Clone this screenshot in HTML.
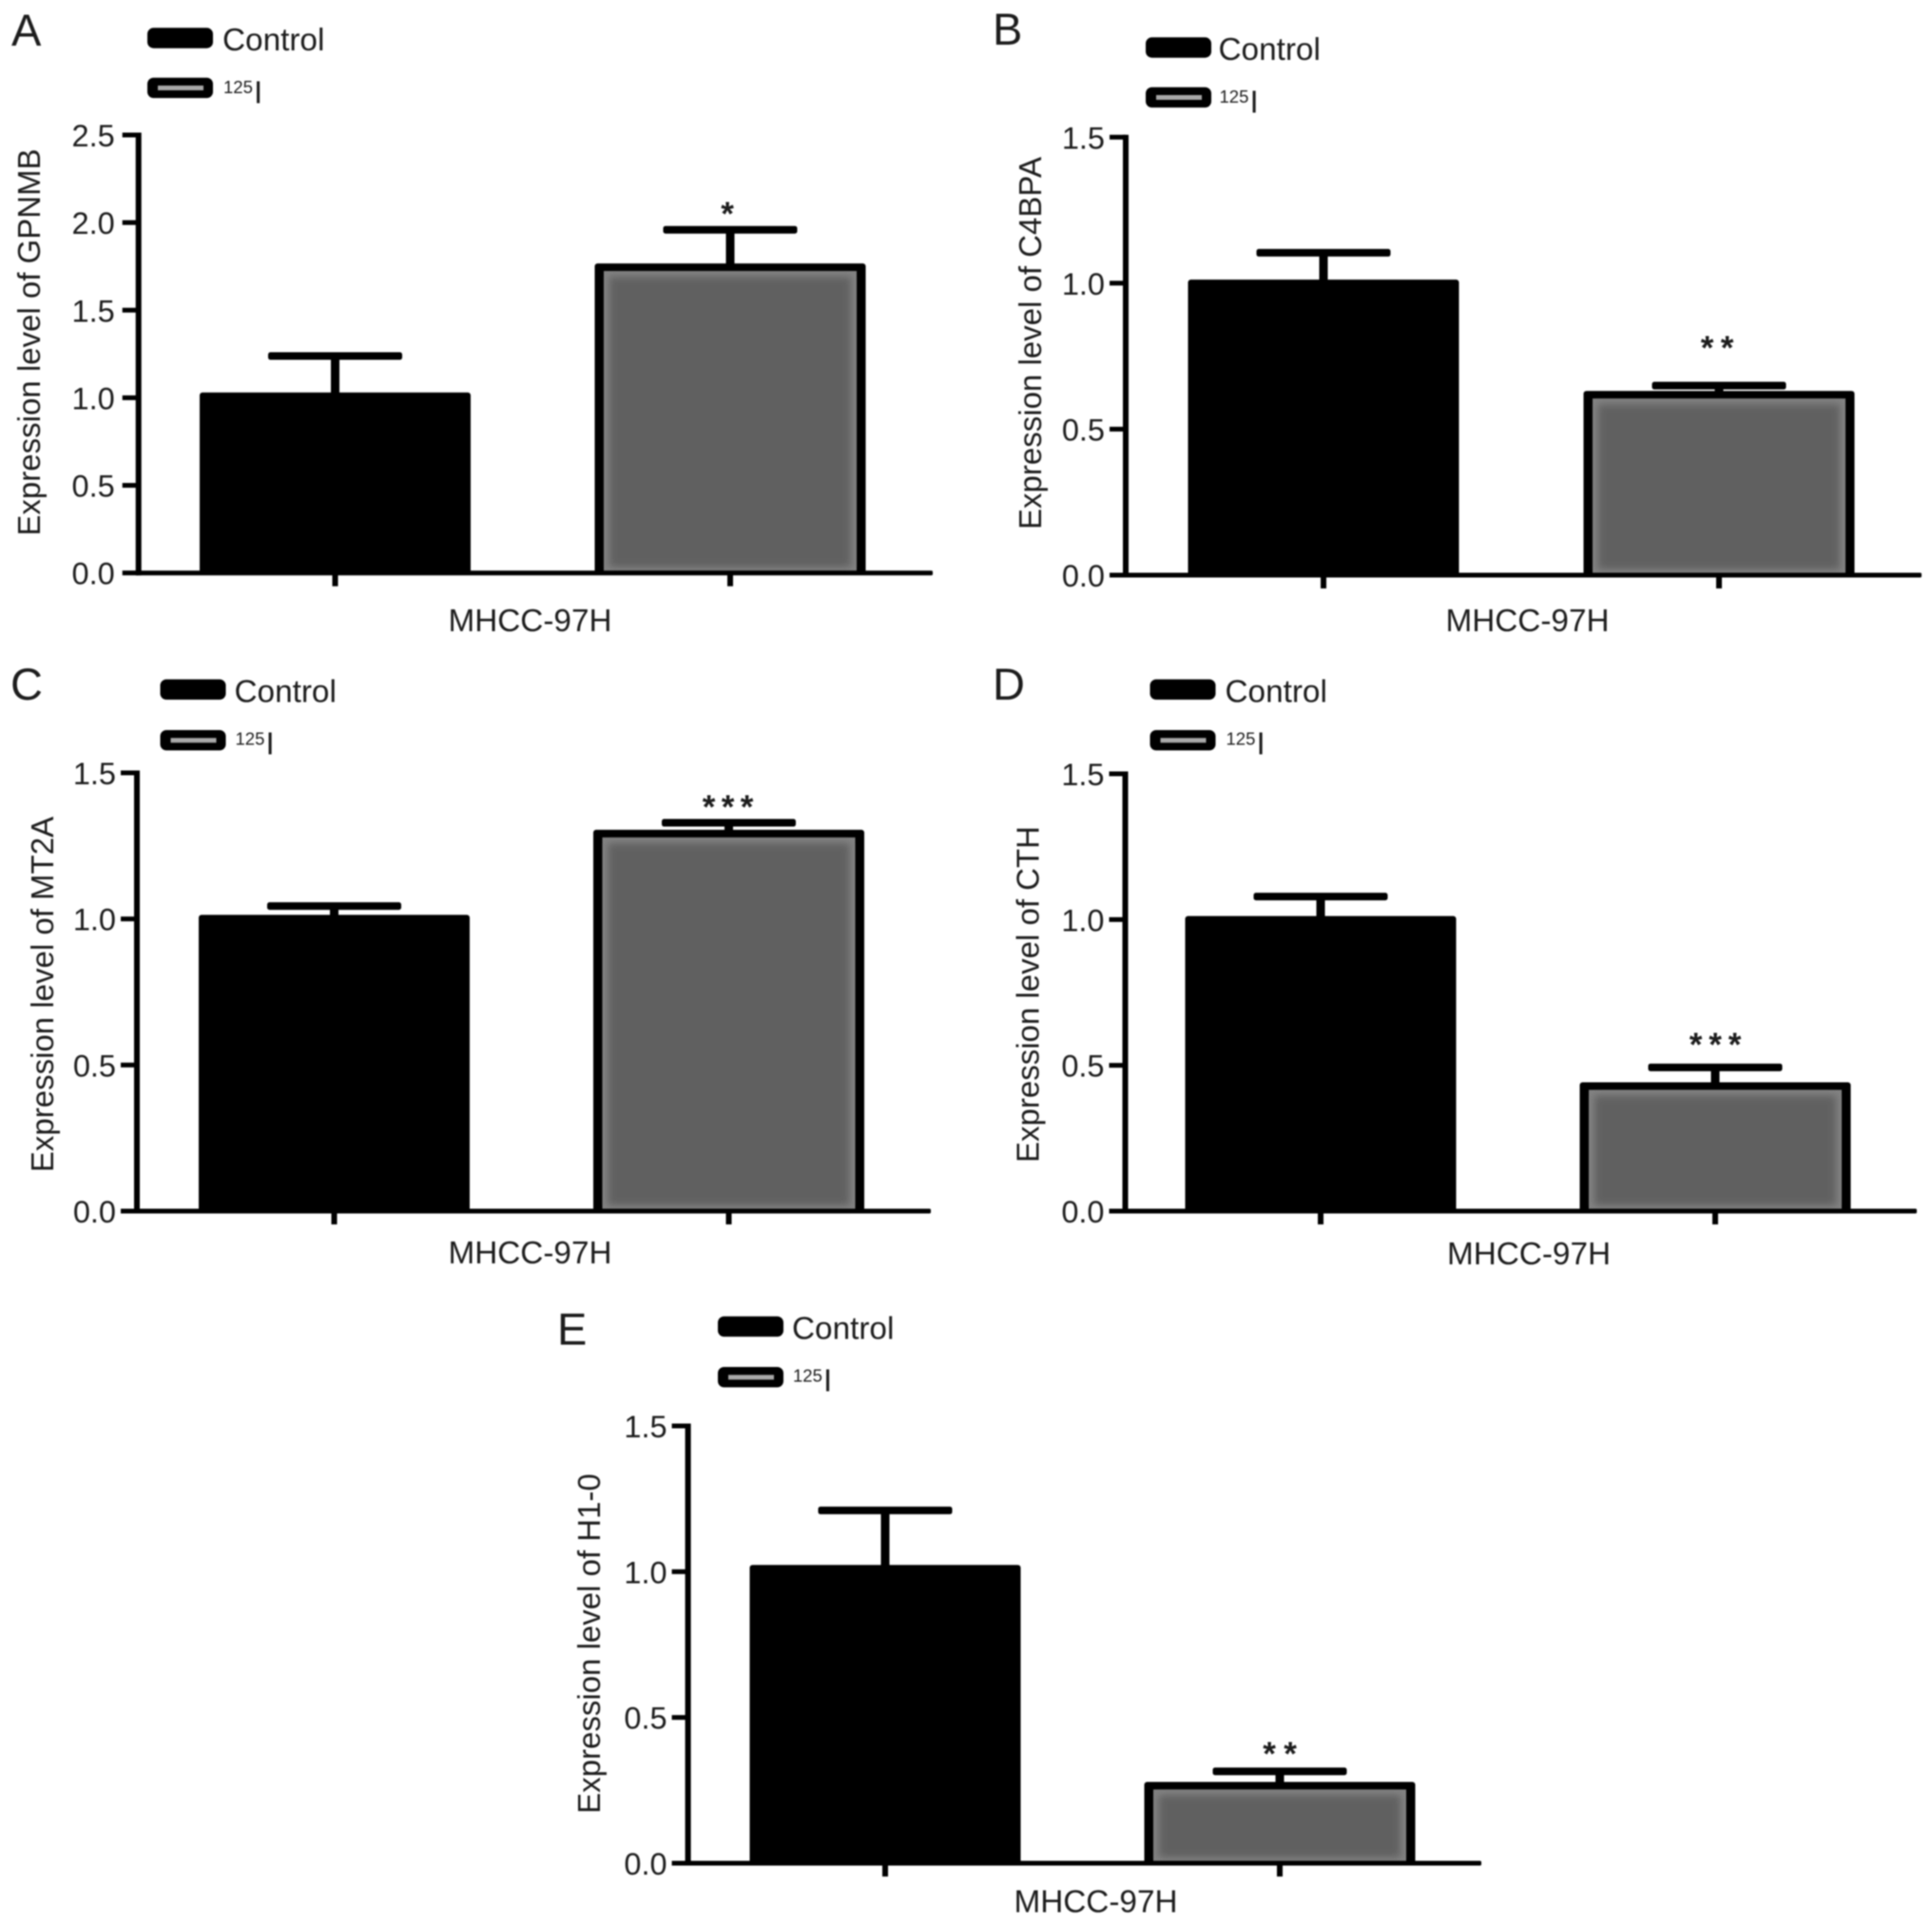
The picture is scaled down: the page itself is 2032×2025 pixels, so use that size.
<!DOCTYPE html>
<html lang="en">
<head>
<meta charset="utf-8">
<title>Expression levels in MHCC-97H</title>
<style>
  html, body { margin: 0; padding: 0; background: #fff; }
  body { width: 2032px; height: 2025px; overflow: hidden; }
  svg { display: block; filter: blur(0.7px); }
  text { font-family: "Liberation Sans", sans-serif; fill: #1c1c1c; }
</style>
</head>
<body>
<svg id="figure" xmlns="http://www.w3.org/2000/svg" width="2032" height="2025" viewBox="0 0 2032 2025">
  <defs>
    <filter id="soft-edge" x="-20%" y="-20%" width="140%" height="140%">
      <feGaussianBlur stdDeviation="4"></feGaussianBlur>
    </filter>
  </defs>
  <rect width="2032" height="2025" fill="#ffffff"></rect>
</svg>
<script>
// ---------- chart data ----------
const panelLetters = ['A', 'B', 'C', 'D', 'E'];
const geneNames = ['GPNMB', 'C4BPA', 'MT2A', 'CTH', 'H1-0'];
const categoryLabel = 'MHCC-97H';
const legendControl = 'Control';
const legendIsotope = '125';
const legendElement = 'I';
const controlValues = [1.03, 1.012, 1.014, 1.012, 1.023];
const controlErrors = [0.208, 0.092, 0.03, 0.067, 0.187];
const treatedValues = [1.767, 0.631, 1.305, 0.442, 0.279];
const treatedErrors = [0.192, 0.018, 0.024, 0.051, 0.036];
const significanceStars = [1, 2, 3, 3, 2];
const yTicksA = ['0.0', '0.5', '1.0', '1.5', '2.0', '2.5'];
const yTicksB = ['0.0', '0.5', '1.0', '1.5'];
const yTicksC = ['0.0', '0.5', '1.0', '1.5'];
const yTicksD = ['0.0', '0.5', '1.0', '1.5'];
const yTicksE = ['0.0', '0.5', '1.0', '1.5'];
const yTickSets = [yTicksA, yTicksB, yTicksC, yTicksD, yTicksE];

// ---------- page layout for each panel (geometry, not data) ----------
const layouts = [
  { axisX: 145.7, right: 981, top: 142, base: 602.7, c0: 352.5, c1: 768, tickGap: 25, legX: 155, legY1: 29.3, legY2: 81.7, legTextDx: 79, letX: 12, letY: 48, titleX: 42, titleY: 360, catX: 557.5, catY: 664, starGap: 24.5, starDx: -3, starStep: 20 },
  { axisX: 1184, right: 2021, top: 144.3, base: 605, c0: 1392, c1: 1808, tickGap: 22, legX: 1205, legY1: 39.3, legY2: 91.7, legTextDx: 76.5, letX: 1044, letY: 47, titleX: 1095, titleY: 361, catX: 1606.5, catY: 664, starGap: 47.5, starDx: -2, starStep: 21 },
  { axisX: 144, right: 979, top: 813, base: 1274, c0: 351.5, c1: 766.5, tickGap: 22, legX: 168.5, legY1: 714.6, legY2: 768, legTextDx: 78, letX: 11, letY: 736, titleX: 56, titleY: 1046, catX: 557.5, catY: 1329, starGap: 24.5, starDx: -1, starStep: 20 },
  { axisX: 1183.5, right: 2016, top: 814, base: 1274, c0: 1389, c1: 1804, tickGap: 22, legX: 1209.5, legY1: 714.6, legY2: 768, legTextDx: 79, letX: 1044, letY: 736, titleX: 1092.5, titleY: 1046, catX: 1608, catY: 1330, starGap: 32, starDx: 0, starStep: 20.5 },
  { axisX: 723.6, right: 1558, top: 1500, base: 1960, c0: 931, c1: 1346, tickGap: 22, legX: 755, legY1: 1384.7, legY2: 1438, legTextDx: 78, letX: 586, letY: 1414.6, titleX: 631, titleY: 1729, catX: 1152.5, catY: 2011.7, starGap: 26.5, starDx: 0, starStep: 22 }
];

const SVG_NS = 'http://www.w3.org/2000/svg';
const BAR_WIDTH = 285;
const figure = document.getElementById('figure');

function mk(tag, attrs, parent) {
  const el = document.createElementNS(SVG_NS, tag);
  Object.keys(attrs).forEach(function (k) { el.setAttribute(k, attrs[k]); });
  parent.appendChild(el);
  return el;
}

function yScale(layout, ticks, v) {
  const max = parseFloat(ticks[ticks.length - 1]);
  return layout.base - (v / max) * (layout.base - layout.top);
}

function drawBarErr(g, layout, ticks, center, value, error, key) {
  const yTop = yScale(layout, ticks, value);
  const yCap = yScale(layout, ticks, value + error);
  const stem = mk('rect', { x: center - 4.5, y: yCap, width: 9, height: yTop - yCap + 6, fill: '#000' }, g);
  
  
  const cap = mk('rect', { x: center - 70.5, y: yCap - 4, width: 141, height: 8, rx: 2.5, fill: '#000' }, g);
  
  
  return yCap;
}

panelLetters.forEach(function (letter, i) {
  const L = layouts[i];
  const ticks = yTickSets[i];

  const g = mk('g', {}, figure);
  
  

  const letterEl = mk('text', { x: L.letX, y: L.letY, 'font-size': 47 }, g);
  letterEl.textContent = letter;
  
  

  // legend
  const sw1 = mk('rect', { x: L.legX, y: L.legY1, width: 69, height: 21.4, rx: 6.5, fill: '#000' }, g);
  
  
  const t1 = mk('text', { x: L.legX + L.legTextDx, y: L.legY1 + 23.7, 'font-size': 33.3 }, g);
  t1.textContent = legendControl;
  
  
  const sw2 = mk('rect', { x: L.legX, y: L.legY2, width: 69, height: 21.4, rx: 6.5, fill: '#000' }, g);
  
  
  const swInner = mk('rect', { x: L.legX + 11, y: L.legY2 + 8.3, width: 48, height: 5, fill: '#a8a8a8' }, g);
  
  
  const t2 = mk('text', { x: L.legX + L.legTextDx + 1, y: L.legY1 + 68.7, 'font-size': 18.5 }, g);
  t2.textContent = legendIsotope;
  
  
  const t3 = mk('text', { x: L.legX + L.legTextDx + 33, y: L.legY1 + 79, 'font-size': 33 }, g);
  t3.textContent = legendElement;
  
  

  // y axis title
  const title = mk('text', { transform: 'translate(' + L.titleX + ',' + L.titleY + ') rotate(-90)', 'text-anchor': 'middle', 'font-size': 33 }, g);
  title.textContent = 'Expression level of ' + geneNames[i];
  
  

  // control bar
  const yTop0 = yScale(L, ticks, controlValues[i]);
  drawBarErr(g, L, ticks, L.c0, controlValues[i], controlErrors[i], 'control');
  const bar0 = mk('rect', { x: L.c0 - BAR_WIDTH / 2, y: yTop0, width: BAR_WIDTH, height: L.base - yTop0, rx: 3, fill: '#000' }, g);
  
  

  // treated bar
  const yTop1 = yScale(L, ticks, treatedValues[i]);
  const yCap1 = drawBarErr(g, L, ticks, L.c1, treatedValues[i], treatedErrors[i], 'iodine');
  const bar1 = mk('rect', { x: L.c1 - BAR_WIDTH / 2, y: yTop1, width: BAR_WIDTH, height: L.base - yTop1, rx: 3, fill: '#000' }, g);
  
  
  const innerX = L.c1 - BAR_WIDTH / 2 + 9.5;
  const innerY = yTop1 + 8;
  const innerW = BAR_WIDTH - 19;
  const innerH = L.base - yTop1 - 10;
  const fillEdge = mk('rect', { x: innerX, y: innerY, width: innerW, height: innerH, fill: '#828282' }, g);
  
  
  const fillCore = mk('rect', { x: innerX + 6, y: innerY + 6, width: innerW - 12, height: Math.max(innerH - 10, 1), fill: '#606060', filter: 'url(#soft-edge)' }, g);
  
  

  // significance stars
  const n = significanceStars[i];
  for (let s = 0; s < n; s++) {
    const sx = L.c1 + L.starDx + (s - (n - 1) / 2) * L.starStep;
    const star = mk('text', { x: sx, y: yCap1 - L.starGap + 20, 'text-anchor': 'middle', 'font-size': 35, 'font-weight': 'bold' }, g);
    star.textContent = '*';
    
    
  }

  // axes
  const yAxis = mk('rect', { x: L.axisX - 3, y: L.top - 2.5, width: 6, height: L.base - L.top + 5, fill: '#000' }, g);
  
  
  const xAxis = mk('rect', { x: L.axisX - 3, y: L.base - 2.5, width: L.right - L.axisX + 3, height: 5, rx: 1.5, fill: '#000' }, g);
  
  

  ticks.forEach(function (label) {
    const ty = yScale(L, ticks, parseFloat(label));
    const tick = mk('rect', { x: L.axisX - 17, y: ty - 2.5, width: 17, height: 5, fill: '#000' }, g);
    
    
    const tl = mk('text', { x: L.axisX - L.tickGap, y: ty + 12, 'text-anchor': 'end', 'font-size': 32.5 }, g);
    tl.textContent = label;
    
    
  });

  [L.c0, L.c1].forEach(function (cx) {
    const xt = mk('rect', { x: cx - 3, y: L.base, width: 6, height: 14, fill: '#000' }, g);
    
    
  });

  const cat = mk('text', { x: L.catX, y: L.catY, 'text-anchor': 'middle', 'font-size': 33.3 }, g);
  cat.textContent = categoryLabel;
  
  
});
</script>
</body>
</html>
